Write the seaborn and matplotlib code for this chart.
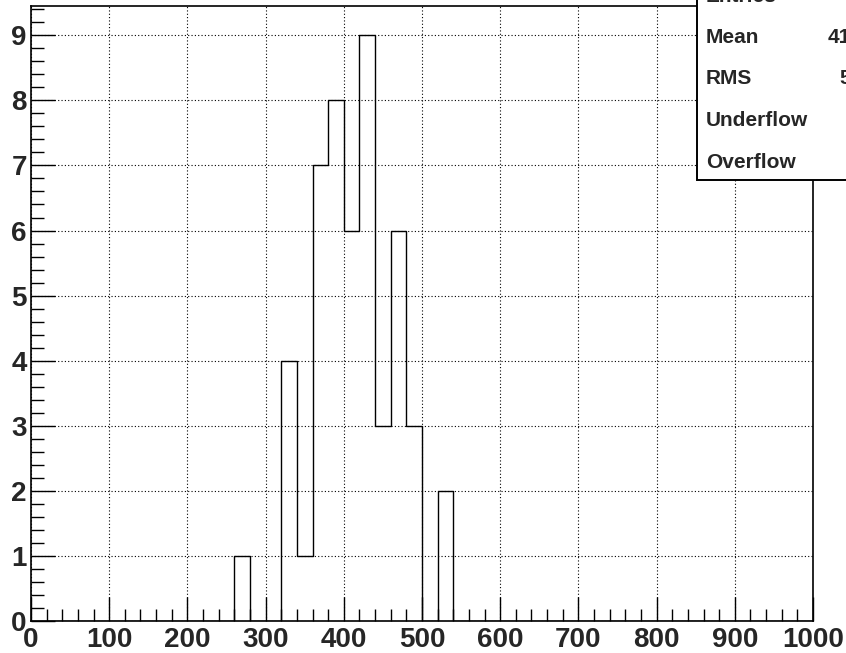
import numpy as np
import matplotlib
matplotlib.use("Agg")
import matplotlib.pyplot as plt
import seaborn as sns
import pandas as pd
from matplotlib.ticker import MultipleLocator

# histogram contents (bin width 20, range 0-1000)
bin_centers = [270, 330, 350, 370, 390, 410, 430, 450, 470, 490, 530]
counts = [1, 4, 1, 7, 8, 6, 9, 3, 6, 3, 2]

stat_names = ["Entries", "Mean", "RMS", "Underflow", "Overflow"]
stat_values = ["50", "413.6", "54.8", "0", "0"]

df = pd.DataFrame({"x": bin_centers, "w": counts})

sns.set_style("white")
plt.rcParams['font.family'] = ['Liberation Sans', 'DejaVu Sans']

fig = plt.figure(figsize=(8.46, 6.53), dpi=100)
ax = fig.add_axes([31/846, 1 - 621/653, 782/846, 615/653])

sns.histplot(data=df, x="x", weights="w", binwidth=20, binrange=(0, 1000),
             element="step", fill=False, color="black", linewidth=1.0, ax=ax)

ax.set_xlim(0, 1000)
ax.set_ylim(0, 9.45)
ax.set_xlabel("")
ax.set_ylabel("")
ax.xaxis.set_major_locator(MultipleLocator(100))
ax.xaxis.set_minor_locator(MultipleLocator(20))
ax.yaxis.set_major_locator(MultipleLocator(1))
ax.yaxis.set_minor_locator(MultipleLocator(0.2))
ax.tick_params(which="major", direction="in", length=17, width=1, color="black",
               bottom=True, left=True, top=False, right=False, labelsize=20)
ax.tick_params(axis="x", which="major", pad=4)
ax.tick_params(axis="y", which="major", pad=3)
ax.tick_params(which="minor", direction="in", length=9, width=1, color="black",
               bottom=True, left=True, top=False, right=False)
for lab in ax.get_xticklabels() + ax.get_yticklabels():
    lab.set_fontweight("bold")
ax.grid(True, which="major", linestyle=(0, (1, 2)), color="black", linewidth=0.8)
for s in ax.spines.values():
    s.set_visible(True)
    s.set_color("black")
    s.set_linewidth(1.2)

# stats box, cut by the figure edge
box = plt.Rectangle((697/846, 1 - 180/653), 0.3, 0.3, transform=fig.transFigure,
                    facecolor="white", edgecolor="black", linewidth=1.4, zorder=5)
fig.patches.append(box)
for i, (n, v) in enumerate(zip(stat_names, stat_values)):
    y = 1 - (-4 + 41.5 * i) / 653
    fig.text(706/846, y, n, fontsize=15, fontweight="bold", va="center", zorder=6)
    fig.text(880/846, y, v, fontsize=15, fontweight="bold", va="center",
             ha="right", zorder=6)

fig.savefig("out.png", dpi=100)
